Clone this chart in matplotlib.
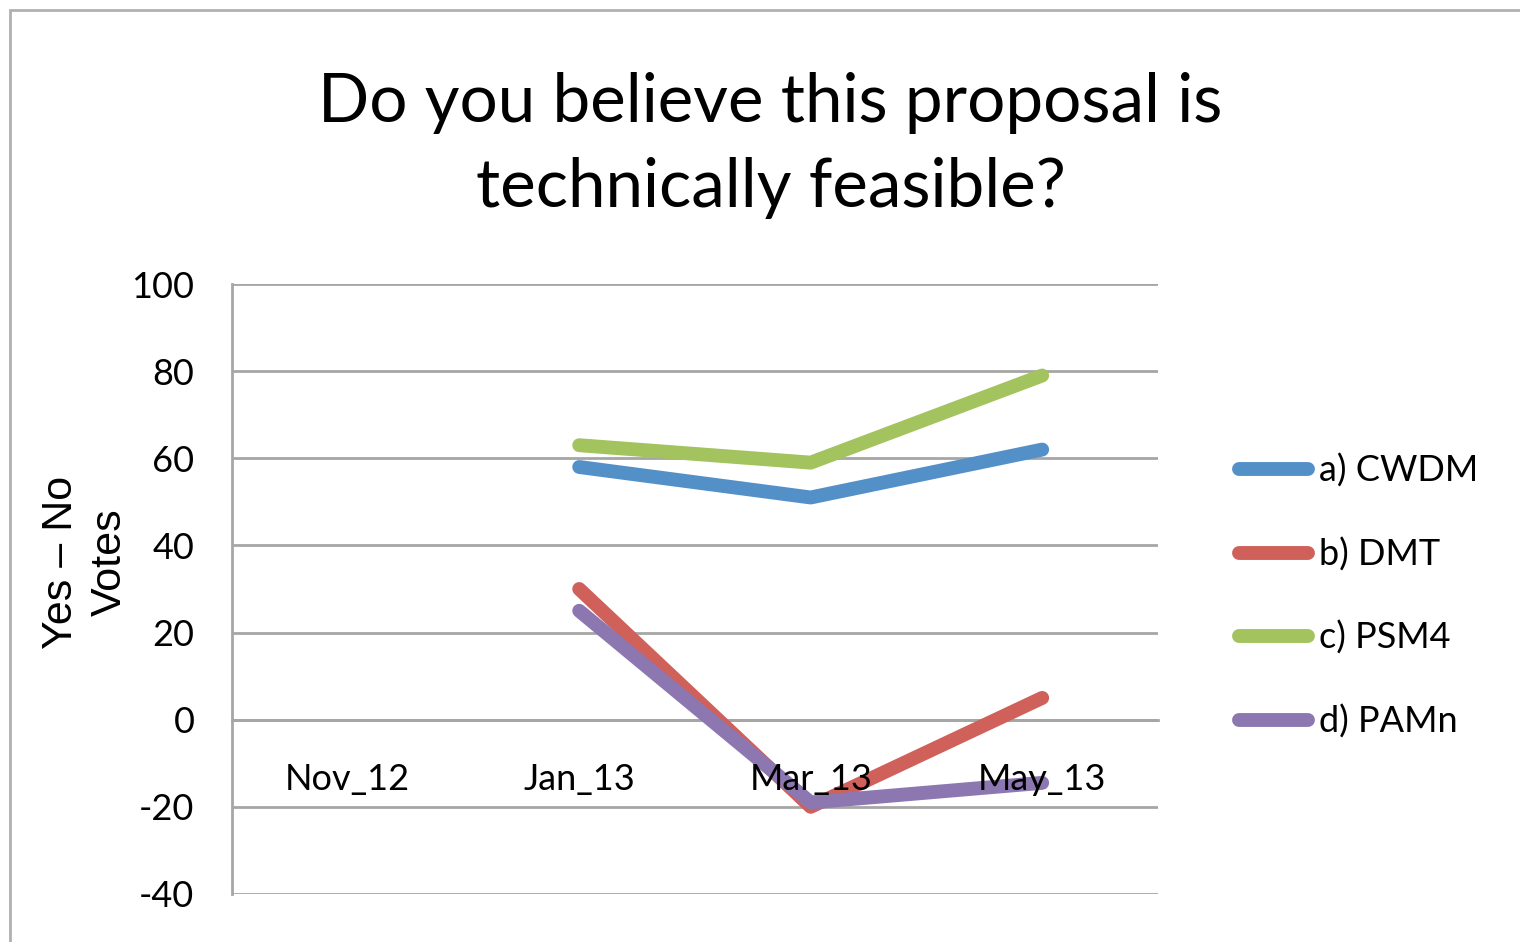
import numpy as np
import matplotlib
matplotlib.use("Agg")
import matplotlib.pyplot as plt
from matplotlib.patches import Rectangle

plt.rcParams["axes.unicode_minus"] = False

# data (Nov_12 has no values)
months = ["Nov_12", "Jan_13", "Mar_13", "May_13"]
cwdm = [np.nan, 58, 51, 62]
dmt = [np.nan, 30, -20, 5]
psm4 = [np.nan, 63, 59, 79]
pamn = [np.nan, 25, -19, -14.5]
series_names = ["a) CWDM", "b) DMT", "c) PSM4", "d) PAMn"]
colors = ["#5390c8", "#d0605a", "#a3c35e", "#8d77b1"]

y_ticks = [-40, -20, 0, 20, 40, 60, 80, 100]
grid_grey = "#a6a6a6"

fig = plt.figure(figsize=(15.2, 9.42), dpi=100)
ax = fig.add_axes([0.1526, 0.0510, 0.6092, 0.6475])

# gridlines drawn by hand so tick labels can sit on top of the lines
for yt in y_ticks:
    ax.axhline(yt, color=grid_grey, lw=2, zorder=0.5)

x = np.arange(len(months))
for vals, name, col in zip([cwdm, dmt, psm4, pamn], series_names, colors):
    ax.plot(x, vals, color=col, lw=10, solid_capstyle="round",
            solid_joinstyle="round", label=name, zorder=2)

ax.set_xlim(-0.5, len(months) - 0.5)
ax.set_ylim(-40, 100)
ax.set_yticks(y_ticks)
ax.set_axisbelow(False)

# category axis crosses at zero
ax.spines["bottom"].set_position(("data", 0))
ax.spines["bottom"].set_color(grid_grey)
ax.spines["bottom"].set_linewidth(2)
ax.spines["bottom"].set_zorder(0.5)
ax.spines["left"].set_color(grid_grey)
ax.spines["left"].set_linewidth(2)
ax.spines["top"].set_visible(False)
ax.spines["right"].set_visible(False)

ax.set_xticks(x)
ax.set_xticklabels(months)
ax.tick_params(axis="x", length=0, pad=31, labelsize=26)
ax.tick_params(axis="y", length=0, pad=27, labelsize=26)
for lab in ax.get_xticklabels() + ax.get_yticklabels():
    lab.set_fontfamily("Lato")

ax.set_ylabel("Yes \u2013 No\nVotes", fontsize=31, family="Liberation Sans",
              linespacing=1.3)
ax.yaxis.set_label_coords(-0.110, 0.544)

fig.text(0.507, 0.846, "Do you believe this proposal is\ntechnically feasible?",
         ha="center", va="center", fontsize=48.5, family="Lato", linespacing=1.46)

leg = fig.legend(loc="center left", bbox_to_anchor=(0.815, 0.367),
                 frameon=False, prop={"family": "Lato", "size": 26},
                 handlelength=1.91, handletextpad=0.3, labelspacing=1.37,
                 borderpad=0, borderaxespad=0)

# outer chart border
fig.patches.append(Rectangle((0.0066, -0.1), 1.2, 1.0894, transform=fig.transFigure,
                             fill=False, edgecolor="#b0b0b0", lw=2, clip_on=False))

fig.savefig("out.png", dpi=100)
